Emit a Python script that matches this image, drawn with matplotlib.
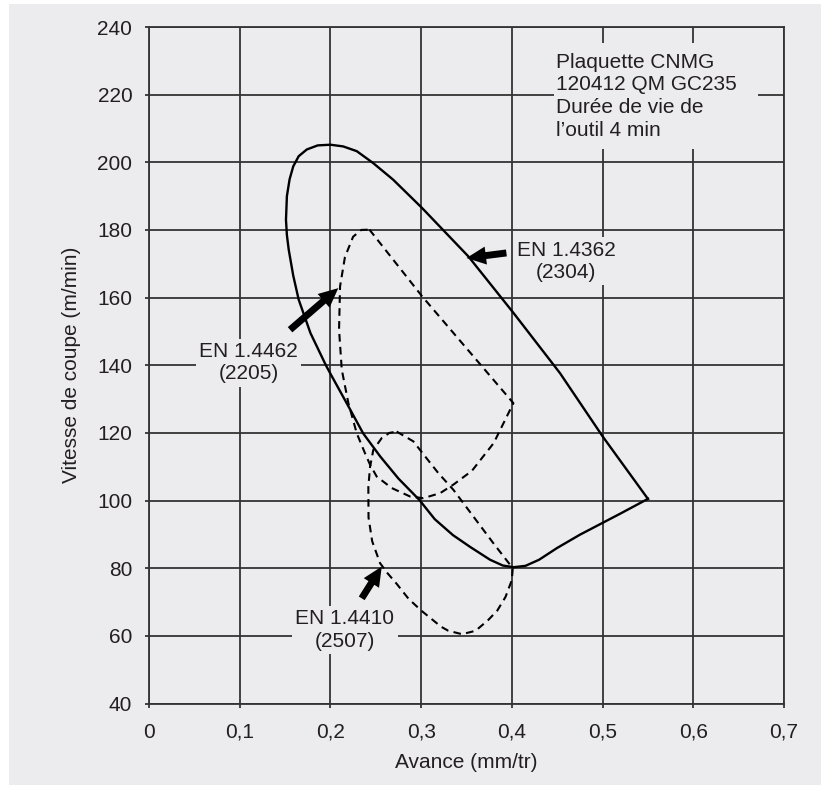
import matplotlib
matplotlib.use("Agg")
import matplotlib.pyplot as plt
from matplotlib.patches import Rectangle

plt.rcParams['font.family'] = ['Liberation Sans', 'DejaVu Sans']
plt.rcParams['lines.scale_dashes'] = False

bg = '#ececee'
ink = '#231f20'
grid_c = '#333333'

# Avance (mm/tr) / Vitesse de coupe (m/min)
x_2304 = [0.55, 0.50, 0.453, 0.402, 0.352, 0.301, 0.269, 0.247, 0.229, 0.214, 0.20,
          0.186, 0.174, 0.165, 0.159, 0.155, 0.152, 0.151, 0.152, 0.154, 0.159, 0.165,
          0.178, 0.195, 0.20, 0.222, 0.236, 0.255, 0.275, 0.298, 0.315, 0.335, 0.354,
          0.365, 0.376, 0.39, 0.402, 0.415, 0.43, 0.45, 0.475, 0.50, 0.52, 0.55]
y_2304 = [100.5, 119, 137.7, 155.4, 172.2, 186.5, 194.9, 199.8, 203.3, 204.7, 205.2,
          205, 203.8, 201.8, 198.8, 195, 190, 183, 178.5, 174.2, 166.5, 159.4,
          149.5, 140, 137.5, 126.8, 119.9, 113, 106.5, 100.2, 94.5, 89.8, 86.3,
          84.4, 82.5, 80.8, 80.3, 80.7, 82.5, 86, 89.9, 93.4, 96.2, 100.5]

x_2205 = [0.243, 0.301, 0.4017, 0.38, 0.356, 0.336, 0.321, 0.3024, 0.2878, 0.2676,
          0.251, 0.2437, 0.2381, 0.229, 0.2198, 0.2125, 0.2095, 0.2106, 0.216, 0.225,
          0.234, 0.243]
y_2205 = [180.1, 160.4, 128.8, 117, 108.8, 104.8, 102.2, 100.7, 101.2, 103.7,
          107.1, 110.6, 114, 119.9, 128.8, 138.7, 150.5, 163.3, 172, 178,
          180, 180.1]

x_2507 = [0.273, 0.2914, 0.306, 0.319, 0.3355, 0.3796, 0.401, 0.40, 0.393, 0.384,
          0.374, 0.36, 0.345, 0.33, 0.322, 0.30, 0.286, 0.2727, 0.263, 0.2547,
          0.246, 0.242, 0.2418, 0.2437, 0.2473, 0.2566, 0.265, 0.273]
y_2507 = [120.4, 117.5, 112.5, 108.1, 103.2, 87.4, 80, 76.5, 71.5, 67.5,
          64.7, 61.5, 60.5, 61.5, 62.7, 67.5, 71, 75.5, 78.5, 81.5,
          88, 95, 104, 110, 115, 118.5, 120, 120.4]

x_ticks = [0, 0.1, 0.2, 0.3, 0.4, 0.5, 0.6, 0.7]
x_labels = ['0', '0,1', '0,2', '0,3', '0,4', '0,5', '0,6', '0,7']
y_ticks = [40, 60, 80, 100, 120, 140, 160, 180, 200, 220, 240]

fig = plt.figure(figsize=(8.21, 7.85), dpi=100, facecolor='white')
fig.patches.append(Rectangle((9 / 821, 0), 1, 1 - 4 / 785, transform=fig.transFigure,
                             fc=bg, ec='none', zorder=-10))
ax = fig.add_axes([0.1815, 0.1038, 0.7734, 0.8618])
ax.set_facecolor(bg)

ax.plot(x_2304, y_2304, color='black', lw=1.7, zorder=2, solid_joinstyle='round')
ax.plot(x_2205, y_2205, color='black', lw=1.5, dashes=(5.5, 3.8), zorder=2)
ax.plot(x_2507, y_2507, color='black', lw=1.5, dashes=(5.5, 3.8), zorder=2)

ax.set_xlim(0, 0.7)
ax.set_ylim(40, 240)
ax.set_xticks(x_ticks)
ax.set_xticklabels(x_labels)
ax.set_yticks(y_ticks)
ax.grid(True, color=grid_c, lw=1.3)
ax.set_axisbelow(True)
for s in ax.spines.values():
    s.set_color(grid_c)
    s.set_linewidth(1.3)
ax.tick_params(direction='out', length=3, width=1.3, color=grid_c,
               labelsize=15, labelcolor=ink)
ax.tick_params(axis='x', pad=11)
ax.tick_params(axis='y', pad=9)
ax.set_xlabel('Avance (mm/tr)', fontsize=15, color=ink, labelpad=8)
ax.set_ylabel('Vitesse de coupe (m/min)', fontsize=15, color=ink, labelpad=12)

box = dict(boxstyle='square,pad=0.15', fc=bg, ec='none')
arrow = dict(width=5, headwidth=13, headlength=14, shrink=0, fc='black', ec='none')

ax.add_patch(Rectangle((0.447, 203.8), 0.224, 31.6, fc=bg, ec='none', zorder=2.5))
ax.text(0.4487, 219.5, 'Plaquette CNMG\n120412 QM GC235\nDurée de vie de\nl\u2019outil 4 min',
        fontsize=15, color=ink, ha='left', va='center', linespacing=1.25, zorder=3)

ax.text(0.46, 170.7, 'EN 1.4362\n(2304)', fontsize=15, color=ink, ha='center',
        va='center', linespacing=1.25, bbox=box, zorder=3)
ax.annotate('', xy=(0.35, 171.7), xytext=(0.394, 173.2), arrowprops=arrow, zorder=3)

ax.text(0.11, 140.8, 'EN 1.4462\n(2205)', fontsize=15, color=ink, ha='center',
        va='center', linespacing=1.25, bbox=box, zorder=3)
ax.annotate('', xy=(0.2087, 162.8), xytext=(0.1555, 150.5), arrowprops=arrow, zorder=3)

ax.text(0.216, 61.7, 'EN 1.4410\n(2507)', fontsize=15, color=ink, ha='center',
        va='center', linespacing=1.25, bbox=box, zorder=3)
ax.annotate('', xy=(0.2566, 80.5), xytext=(0.2345, 71.1), arrowprops=arrow, zorder=3)

fig.savefig('out.png', dpi=100, facecolor=fig.get_facecolor())
